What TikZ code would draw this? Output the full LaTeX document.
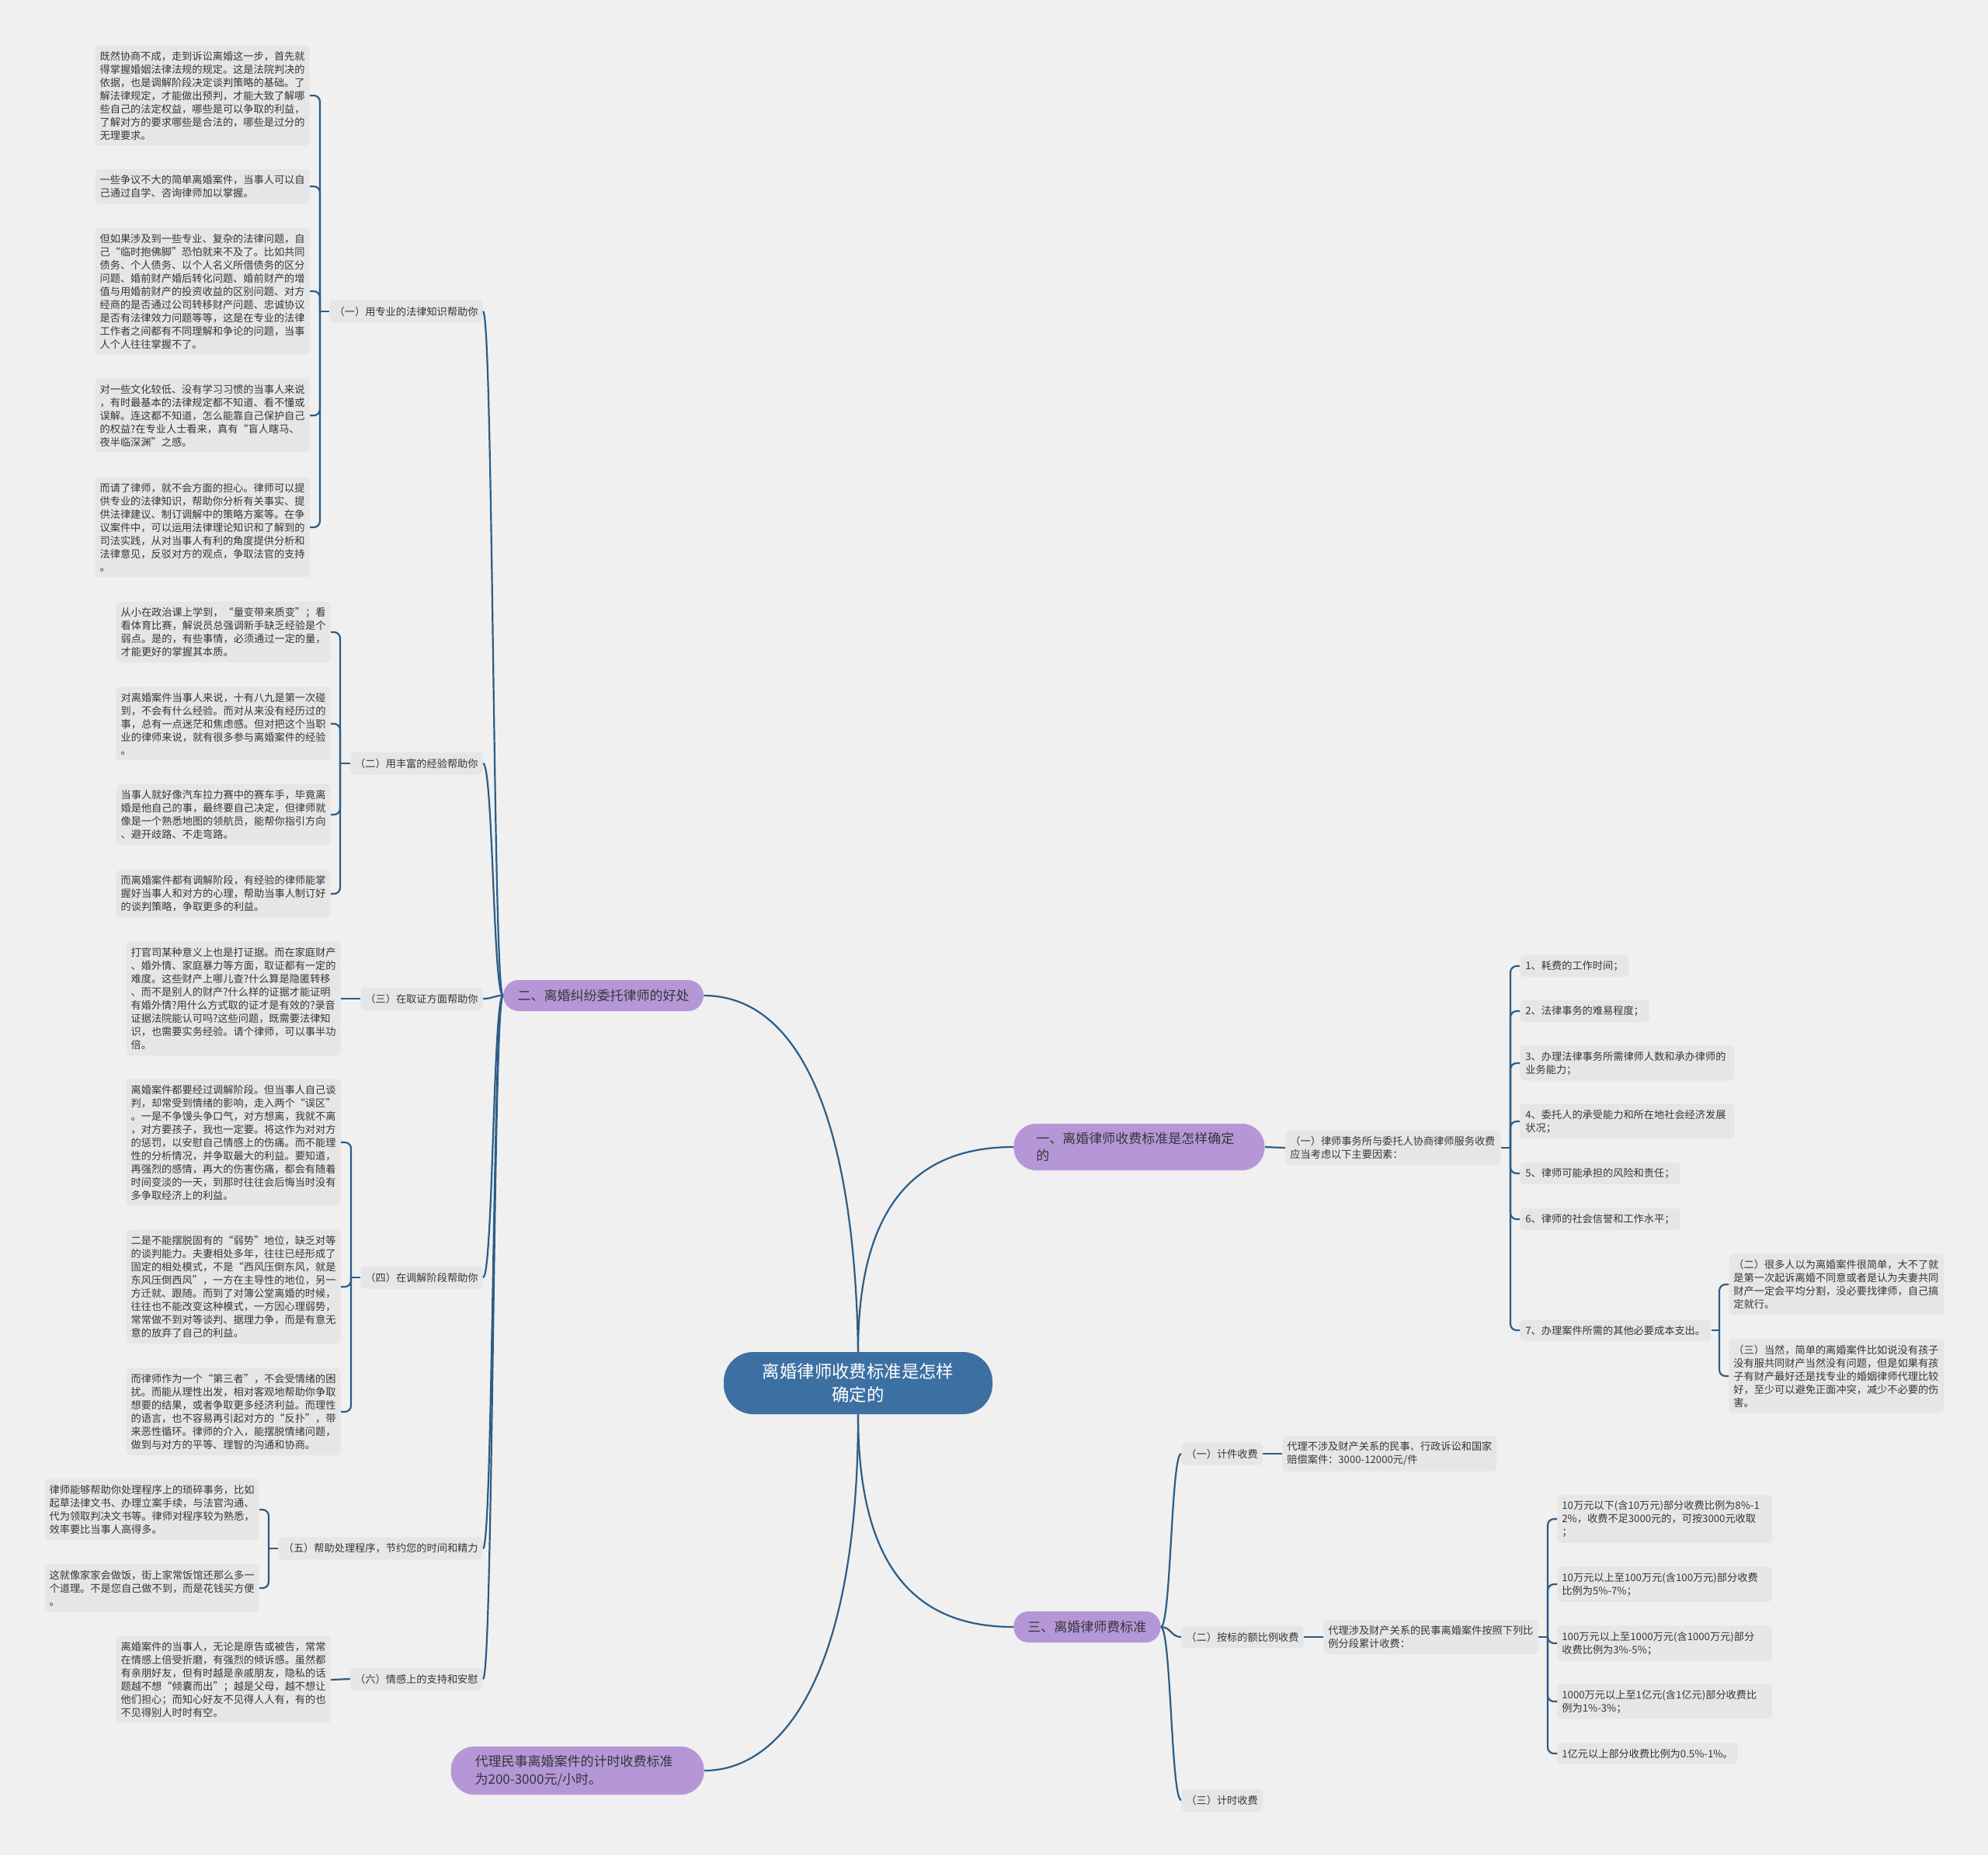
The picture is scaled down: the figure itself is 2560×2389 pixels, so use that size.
\documentclass[tikz,border=0pt]{standalone}
\usepackage{fontspec}
\setmainfont{Noto Sans CJK SC}
\definecolor{bgc}{HTML}{F0F0F0}
\definecolor{boxc}{HTML}{E6E6E6}
\definecolor{txtc}{HTML}{363636}
\definecolor{connc}{HTML}{2B5D87}
\definecolor{ctrc}{HTML}{3D70A2}
\definecolor{purp}{HTML}{B597D8}
\newcommand\mmsmall{\fontsize{6.6pt}{8.5pt}\selectfont}
\newcommand\mmmid{\fontsize{8.5pt}{11.3pt}\selectfont}
\newcommand\mmbig{\fontsize{11.2pt}{15.3pt}\selectfont}
\tikzset{
  conn/.style={draw=connc, line width=1.1pt},
  brk/.style={conn, rounded corners=4pt},
  tb/.style={fill=boxc, rounded corners=2.5pt, align=left, font=\mmsmall, text=txtc, inner xsep=3pt, inner ysep=3.7pt},
  tbw/.style={tb, text width=132pt},
  lbl/.style={fill=boxc, rounded corners=2.5pt, font=\mmsmall, text=txtc, minimum height=14.5pt, inner xsep=3pt, inner ysep=0pt},
  lone/.style={fill=purp, font=\mmmid, text=txtc, align=left, minimum height=20pt},
  ctr/.style={fill=ctrc, text=white, font=\mmbig, align=center, minimum width=173pt, minimum height=40pt, rounded corners=19pt}
}
\begin{document}
\begin{tikzpicture}[x=0.5pt,y=-0.5pt]
\useasboundingbox (0,0) rectangle (2560,2389);
\fill[bgc] (0,0) rectangle (2560,2389);

% center and level 1
\node[ctr] (root) at (1105,1781) {离婚律师收费标准是怎样\\确定的};
\node[lone, minimum width=129pt, rounded corners=10pt, align=center] (A) at (777,1282) {二、离婚纠纷委托律师的好处};
\node[lone, anchor=west, text width=132.5pt, inner xsep=14.5pt, minimum height=30pt, rounded corners=14.5pt] (B) at (1305,1477) {一、离婚律师收费标准是怎样确定\\的};
\node[lone, anchor=west, minimum width=94.5pt, rounded corners=9.5pt, align=center] (C) at (1305,2095) {三、离婚律师费标准};
\node[lone, anchor=east, text width=132pt, inner xsep=15.5pt, minimum height=31pt, rounded corners=15pt] (D) at (907,2280) {代理民事离婚案件的计时收费标准\\为200-3000元/小时。};

\draw[conn] (root.north) .. controls (1100,1420) and (1020,1282) .. (A.east);
\draw[conn] (root.north) .. controls (1105,1540) and (1190,1477) .. (B.west);
\draw[conn] (root.south) .. controls (1105,2020) and (1180,2095) .. (C.west);
\draw[conn] (root.south) .. controls (1105,2150) and (1010,2280) .. (D.east);

% level 2 left
\node[lbl, anchor=east, minimum width=98.5pt] (L1) at (622,401) {（一）用专业的法律知识帮助你};
\node[lbl, anchor=east, minimum width=85pt] (L2) at (622,983) {（二）用丰富的经验帮助你};
\node[lbl, anchor=east, minimum width=78.5pt] (L3) at (622,1286) {（三）在取证方面帮助你};
\node[lbl, anchor=east, minimum width=78.5pt] (L4) at (622,1645) {（四）在调解阶段帮助你};
\node[lbl, anchor=east, minimum width=131pt] (L5) at (622,1994) {（五）帮助处理程序，节约您的时间和精力};
\node[lbl, anchor=east, minimum width=85pt] (L6) at (622,2162) {（六）情感上的支持和安慰};
\foreach \n/\y in {L1/401,L2/983,L3/1286,L4/1645,L5/1994,L6/2162}
  \draw[conn] (A.west) .. controls (635,1282) and (635,\y) .. (\n.east);

% (一) children
\node[tbw, anchor=east] (b11) at (399,123) {既然协商不成，走到诉讼离婚这一步，首先就\\得掌握婚姻法律法规的规定。这是法院判决的\\依据，也是调解阶段决定谈判策略的基础。了\\解法律规定，才能做出预判，才能大致了解哪\\些自己的法定权益，哪些是可以争取的利益，\\了解对方的要求哪些是合法的，哪些是过分的\\无理要求。};
\node[tbw, anchor=east] (b12) at (399,240) {一些争议不大的简单离婚案件，当事人可以自\\己通过自学、咨询律师加以掌握。};
\node[tbw, anchor=east] (b13) at (399,375) {但如果涉及到一些专业、复杂的法律问题，自\\己“临时抱佛脚”恐怕就来不及了。比如共同\\债务、个人债务、以个人名义所借债务的区分\\问题、婚前财产婚后转化问题、婚前财产的增\\值与用婚前财产的投资收益的区别问题、对方\\经商的是否通过公司转移财产问题、忠诚协议\\是否有法律效力问题等等，这是在专业的法律\\工作者之间都有不同理解和争论的问题，当事\\人个人往往掌握不了。};
\node[tbw, anchor=east] (b14) at (399,535) {对一些文化较低、没有学习习惯的当事人来说\\，有时最基本的法律规定都不知道、看不懂或\\误解。连这都不知道，怎么能靠自己保护自己\\的权益?在专业人士看来，真有“盲人瞎马、\\夜半临深渊”之感。};
\node[tbw, anchor=east] (b15) at (399,679) {而请了律师，就不会方面的担心。律师可以提\\供专业的法律知识，帮助你分析有关事实、提\\供法律建议、制订调解中的策略方案等。在争\\议案件中，可以运用法律理论知识和了解到的\\司法实践，从对当事人有利的角度提供分析和\\法律意见，反驳对方的观点，争取法官的支持\\。};
\coordinate (j1) at (412,401);
\draw[conn] (L1.west) -- (j1);
\foreach \b in {b11,b12,b13,b14,b15} \draw[brk] (j1) |- (\b.east);

% (二) children
\node[tbw, anchor=east] (b21) at (426,814) {从小在政治课上学到，“量变带来质变”；看\\看体育比赛，解说员总强调新手缺乏经验是个\\弱点。是的，有些事情，必须通过一定的量，\\才能更好的掌握其本质。};
\node[tbw, anchor=east] (b22) at (426,932) {对离婚案件当事人来说，十有八九是第一次碰\\到，不会有什么经验。而对从来没有经历过的\\事，总有一点迷茫和焦虑感。但对把这个当职\\业的律师来说，就有很多参与离婚案件的经验\\。};
\node[tbw, anchor=east] (b23) at (426,1049) {当事人就好像汽车拉力赛中的赛车手，毕竟离\\婚是他自己的事，最终要自己决定，但律师就\\像是一个熟悉地图的领航员，能帮你指引方向\\、避开歧路、不走弯路。};
\node[tbw, anchor=east] (b24) at (426,1151) {而离婚案件都有调解阶段，有经验的律师能掌\\握好当事人和对方的心理，帮助当事人制订好\\的谈判策略，争取更多的利益。};
\coordinate (j2) at (438,983);
\draw[conn] (L2.west) -- (j2);
\foreach \b in {b21,b22,b23,b24} \draw[brk] (j2) |- (\b.east);

% (三) child
\node[tbw, anchor=east] (b31) at (439,1286) {打官司某种意义上也是打证据。而在家庭财产\\、婚外情、家庭暴力等方面，取证都有一定的\\难度。这些财产上哪儿查?什么算是隐匿转移\\、而不是别人的财产?什么样的证据才能证明\\有婚外情?用什么方式取的证才是有效的?录音\\证据法院能认可吗?这些问题，既需要法律知\\识，也需要实务经验。请个律师，可以事半功\\倍。};
\draw[conn] (L3.west) -- (b31.east);

% (四) children
\node[tbw, anchor=east] (b41) at (439,1471) {离婚案件都要经过调解阶段。但当事人自己谈\\判，却常受到情绪的影响，走入两个“误区”\\。一是不争馒头争口气，对方想离，我就不离\\，对方要孩子，我也一定要。将这作为对对方\\的惩罚，以安慰自己情感上的伤痛。而不能理\\性的分析情况，并争取最大的利益。要知道，\\再强烈的感情，再大的伤害伤痛，都会有随着\\时间变淡的一天，到那时往往会后悔当时没有\\多争取经济上的利益。};
\node[tbw, anchor=east] (b42) at (439,1657) {二是不能摆脱固有的“弱势”地位，缺乏对等\\的谈判能力。夫妻相处多年，往往已经形成了\\固定的相处模式，不是“西风压倒东风，就是\\东风压倒西风”，一方在主导性的地位，另一\\方迁就、跟随。而到了对簿公堂离婚的时候，\\往往也不能改变这种模式，一方因心理弱势，\\常常做不到对等谈判、据理力争，而是有意无\\意的放弃了自己的利益。};
\node[tbw, anchor=east] (b43) at (439,1818) {而律师作为一个“第三者”，不会受情绪的困\\扰。而能从理性出发，相对客观地帮助你争取\\想要的结果，或者争取更多经济利益。而理性\\的语言，也不容易再引起对方的“反扑”，带\\来恶性循环。律师的介入，能摆脱情绪问题，\\做到与对方的平等、理智的沟通和协商。};
\coordinate (j4) at (452,1645);
\draw[conn] (L4.west) -- (j4);
\foreach \b in {b41,b42,b43} \draw[brk] (j4) |- (\b.east);

% (五) children
\node[tbw, anchor=east] (b51) at (334,1944) {律师能够帮助你处理程序上的琐碎事务，比如\\起草法律文书、办理立案手续，与法官沟通、\\代为领取判决文书等。律师对程序较为熟悉，\\效率要比当事人高得多。};
\node[tbw, anchor=east] (b52) at (334,2045) {这就像家家会做饭，街上家常饭馆还那么多一\\个道理。不是您自己做不到，而是花钱买方便\\。};
\coordinate (j5) at (346,1994);
\draw[conn] (L5.west) -- (j5);
\foreach \b in {b51,b52} \draw[brk] (j5) |- (\b.east);

% (六) child
\node[tbw, anchor=east] (b61) at (426,2163) {离婚案件的当事人，无论是原告或被告，常常\\在情感上倍受折磨，有强烈的倾诉感。虽然都\\有亲朋好友，但有时越是亲戚朋友，隐私的话\\题越不想“倾囊而出”；越是父母，越不想让\\他们担心；而知心好友不见得人人有，有的也\\不见得别人时时有空。};
\draw[conn] (L6.west) -- (b61.east);

% B side
\node[tb, anchor=west, text width=132.5pt] (R1) at (1655,1478) {（一）律师事务所与委托人协商律师服务收费\\应当考虑以下主要因素：};
\draw[conn] (B.east) -- (R1.west);
\node[tb, anchor=west, inner xsep=3.5pt] (r1) at (1957,1244) {1、耗费的工作时间；};
\node[tb, anchor=west, inner xsep=3.5pt] (r2) at (1957,1302) {2、法律事务的难易程度；};
\node[tb, anchor=west, text width=131pt, inner xsep=3.5pt] (r3) at (1957,1369) {3、办理法律事务所需律师人数和承办律师的\\业务能力；};
\node[tb, anchor=west, text width=131pt, inner xsep=3.5pt] (r4) at (1957,1444) {4、委托人的承受能力和所在地社会经济发展\\状况；};
\node[tb, anchor=west, inner xsep=3.5pt] (r5) at (1957,1511) {5、律师可能承担的风险和责任；};
\node[tb, anchor=west, inner xsep=3.5pt] (r6) at (1957,1570) {6、律师的社会信誉和工作水平；};
\node[tb, anchor=west, inner xsep=3.5pt] (r7) at (1957,1713) {7、办理案件所需的其他必要成本支出。};
\coordinate (jr) at (1945,1478);
\draw[conn] (R1.east) -- (jr);
\foreach \b in {r1,r2,r3,r4,r5,r6,r7} \draw[brk] (jr) |- (\b.west);

\node[tb, anchor=west, text width=132.5pt] (r71) at (2226,1654) {（二）很多人以为离婚案件很简单，大不了就\\是第一次起诉离婚不同意或者是认为夫妻共同\\财产一定会平均分割，没必要找律师，自己搞\\定就行。};
\node[tb, anchor=west, text width=132.5pt] (r72) at (2226,1772) {（三）当然，简单的离婚案件比如说没有孩子\\没有服共同财产当然没有问题，但是如果有孩\\子有财产最好还是找专业的婚姻律师代理比较\\好，至少可以避免正面冲突，减少不必要的伤\\害。};
\coordinate (j7) at (2214,1713);
\draw[conn] (r7.east) -- (j7);
\foreach \b in {r71,r72} \draw[brk] (j7) |- (\b.west);

% C side
\node[lbl, anchor=west, minimum width=52pt] (C1) at (1521,1872) {（一）计件收费};
\node[lbl, anchor=west, minimum width=78pt] (C2) at (1521,2108) {（二）按标的额比例收费};
\node[lbl, anchor=west, minimum width=52pt] (C3) at (1521,2318) {（三）计时收费};
\foreach \n/\y in {C1/1872,C2/2108,C3/2318}
  \draw[conn] (C.east) .. controls (1508,2095) and (1508,\y) .. (\n.west);

\node[tb, anchor=west, text width=132pt] (c11) at (1651,1872) {代理不涉及财产关系的民事、行政诉讼和国家\\赔偿案件：3000-12000元/件};
\draw[conn] (C1.east) -- (c11.west);
\node[tb, anchor=west, text width=132pt] (c21) at (1704,2108) {代理涉及财产关系的民事离婚案件按照下列比\\例分段累计收费：};
\draw[conn] (C2.east) -- (c21.west);

\node[tb, anchor=west, text width=132.5pt] (p1) at (2005,1956) {10万元以下(含10万元)部分收费比例为8\%-1\\2\%，收费不足3000元的，可按3000元收取\\；};
\node[tb, anchor=west, text width=132.5pt] (p2) at (2005,2040) {10万元以上至100万元(含100万元)部分收费\\比例为5\%-7\%；};
\node[tb, anchor=west, text width=132.5pt] (p3) at (2005,2116) {100万元以上至1000万元(含1000万元)部分\\收费比例为3\%-5\%；};
\node[tb, anchor=west, text width=132.5pt] (p4) at (2005,2191) {1000万元以上至1亿元(含1亿元)部分收费比\\例为1\%-3\%；};
\node[tb, anchor=west] (p5) at (2005,2258) {1亿元以上部分收费比例为0.5\%-1\%。};
\coordinate (jp) at (1993,2108);
\draw[conn] (c21.east) -- (jp);
\foreach \b in {p1,p2,p3,p4,p5} \draw[brk] (jp) |- (\b.west);
\end{tikzpicture}
\end{document}
